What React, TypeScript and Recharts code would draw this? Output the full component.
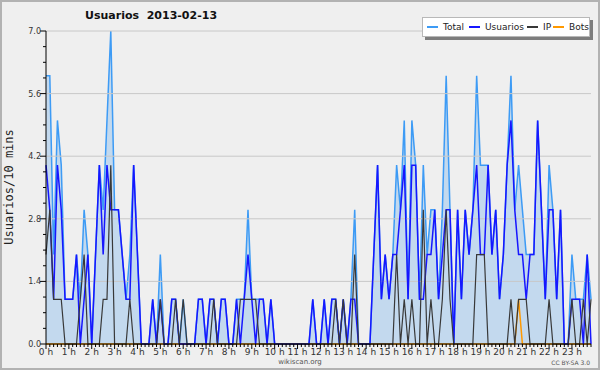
import { ComposedChart, Area, Line, XAxis, YAxis, ReferenceLine } from "recharts"

document.body.style.margin = "0"

// one slot every 10 minutes, 0:00 -> 23:50
const slots = Array.from({ length: 144 }, (_, k) => `${Math.floor(k / 6)}:${(k % 6) * 10}`)

const hourLabels = [
  "0 h", "1 h", "2 h", "3 h", "4 h", "5 h", "6 h", "7 h", "8 h", "9 h", "10 h", "11 h",
  "12 h", "13 h", "14 h", "15 h", "16 h", "17 h", "18 h", "19 h", "20 h", "21 h", "22 h", "23 h",
]

const total = [
  6, 6, 2, 5, 4, 1, 1, 1, 2, 1, 3, 2,
  0, 2, 4, 3, 5, 7, 3, 3, 2, 1, 2, 4,
  2, 0, 0, 0, 1, 0, 2, 0, 0, 1, 1, 0,
  1, 0, 0, 0, 1, 1, 0, 1, 1, 0, 1, 1,
  0, 0, 1, 1, 1, 3, 1, 1, 1, 1, 0, 1,
  0, 0, 0, 0, 0, 0, 0, 0, 0, 0, 1, 0,
  0, 1, 0, 1, 1, 0, 1, 0, 1, 3, 0, 0,
  0, 0, 2, 4, 1, 2, 1, 2, 4, 3, 5, 1,
  5, 4, 1, 4, 2, 3, 3, 1, 3, 6, 3, 0,
  3, 1, 3, 2, 3, 6, 4, 4, 4, 2, 3, 1,
  2, 4, 6, 3, 4, 3, 2, 2, 2, 5, 3, 1,
  4, 3, 1, 3, 0, 0, 2, 1, 1, 1, 2, 1,
]

const usuarios = [
  4, 3, 1, 4, 3, 1, 1, 1, 2, 0, 1, 2,
  0, 2, 4, 2, 4, 3, 3, 3, 2, 1, 1, 4,
  2, 0, 0, 0, 1, 0, 1, 0, 0, 1, 1, 0,
  0, 0, 0, 0, 1, 1, 0, 1, 1, 0, 1, 1,
  0, 0, 1, 0, 1, 2, 1, 0, 1, 1, 0, 1,
  0, 0, 0, 0, 0, 0, 0, 0, 0, 0, 1, 0,
  0, 1, 0, 1, 1, 0, 1, 0, 1, 1, 0, 0,
  0, 0, 2, 4, 1, 2, 1, 2, 2, 3, 4, 1,
  4, 4, 1, 1, 2, 2, 3, 1, 2, 3, 3, 0,
  3, 1, 3, 2, 3, 4, 2, 2, 4, 2, 3, 1,
  2, 4, 5, 3, 2, 2, 1, 2, 2, 5, 3, 1,
  3, 3, 1, 3, 0, 0, 1, 1, 1, 0, 2, 0,
]

const ip = [
  2, 3, 1, 1, 1, 0, 0, 0, 0, 1, 2, 0,
  0, 0, 0, 1, 1, 4, 0, 0, 0, 0, 1, 0,
  0, 0, 0, 0, 0, 0, 1, 0, 0, 0, 1, 0,
  1, 0, 0, 0, 0, 0, 0, 0, 1, 0, 0, 0,
  0, 0, 0, 1, 1, 1, 1, 1, 0, 0, 0, 0,
  0, 0, 0, 0, 0, 0, 0, 0, 0, 0, 0, 0,
  0, 0, 0, 0, 1, 0, 1, 0, 0, 2, 0, 0,
  0, 0, 0, 0, 0, 0, 0, 0, 2, 0, 1, 0,
  1, 0, 0, 3, 0, 1, 0, 0, 1, 3, 1, 0,
  0, 0, 0, 0, 0, 2, 2, 2, 0, 0, 0, 0,
  0, 0, 1, 0, 1, 1, 1, 0, 0, 0, 0, 0,
  1, 0, 0, 0, 0, 0, 1, 0, 0, 1, 0, 1,
]

const bots = [
  0, 0, 0, 0, 0, 0, 0, 0, 0, 0, 0, 0,
  0, 0, 0, 0, 0, 0, 0, 0, 0, 0, 0, 0,
  0, 0, 0, 0, 0, 0, 0, 0, 0, 0, 0, 0,
  0, 0, 0, 0, 0, 0, 0, 0, 0, 0, 0, 0,
  0, 0, 0, 0, 0, 0, 0, 0, 0, 0, 0, 0,
  0, 0, 0, 0, 0, 0, 0, 0, 0, 0, 0, 0,
  0, 0, 0, 0, 0, 0, 0, 0, 0, 0, 0, 0,
  0, 0, 0, 0, 0, 0, 0, 0, 0, 0, 0, 0,
  0, 0, 0, 0, 0, 0, 0, 0, 0, 0, 0, 0,
  0, 0, 0, 0, 0, 0, 0, 0, 0, 0, 0, 0,
  0, 0, 0, 0, 1, 0, 0, 0, 0, 0, 0, 0,
  0, 0, 0, 0, 0, 0, 0, 0, 0, 0, 0, 0,
]

const yMajor = [0, 1.4, 2.8, 4.2, 5.6, 7]
const yTicks = [
  0, 0.35, 0.7, 1.05, 1.4, 1.75, 2.1, 2.45, 2.8, 3.15, 3.5,
  3.85, 4.2, 4.55, 4.9, 5.25, 5.6, 5.95, 6.3, 6.65, 7,
]

const data = slots.map((slot, k) => ({
  slot,
  total: total[k],
  usuarios: usuarios[k],
  ip: ip[k],
  bots: bots[k],
}))

const COLORS = {
  total: "#3d9bf5",
  usuarios: "#1616ff",
  ip: "#383838",
  bots: "#ff9900",
}

const font = "'DejaVu Sans', sans-serif"

const XTick = (props: any) => {
  const { x, y, index } = props
  const major = index % 6 === 0
  return (
    <g>
      <line x1={x} y1={y} x2={x} y2={y + (major ? 5 : 3)} stroke="#000" />
      {major && (
        <text x={x} y={y + 11} textAnchor="middle" fontSize={9} fill="#333" fontFamily={font}>
          {hourLabels[index / 6]}
        </text>
      )}
    </g>
  )
}

const YTick = (props: any) => {
  const { x, y, payload } = props
  const major = yMajor.includes(payload.value)
  return (
    <g>
      <line x1={x - (major ? 6 : 3)} y1={y} x2={x} y2={y} stroke="#000" />
      {major && (
        <text x={x - 5} y={y + 3} textAnchor="end" fontSize={8} fill="#333" fontFamily={font}>
          {payload.value.toFixed(1)}
        </text>
      )}
    </g>
  )
}

const legendItems = [
  { name: "Total", color: COLORS.total, left: 4, textLeft: 20 },
  { name: "Usuarios", color: COLORS.usuarios, left: 46, textLeft: 62 },
  { name: "IP", color: COLORS.ip, left: 104, textLeft: 120 },
  { name: "Bots", color: COLORS.bots, left: 130, textLeft: 146 },
]

const App = () => {
  return (
    <div
      style={{
        position: "relative",
        width: 600,
        height: 370,
        background: "#efefef",
        boxShadow: "inset 0 0 0 2px #b2b2b2",
        fontFamily: font,
        overflow: "hidden",
      }}
    >
      <div
        style={{
          position: "absolute",
          left: 85,
          top: 9,
          fontSize: 11,
          fontWeight: "bold",
          lineHeight: "14px",
          color: "#111",
          whiteSpace: "pre",
        }}
      >
        Usuarios  2013-02-13
      </div>

      <div
        style={{
          position: "absolute",
          left: 9,
          top: 187,
          transform: "translate(-50%, -50%) rotate(-90deg)",
          fontFamily: "'DejaVu Sans Mono', monospace",
          fontSize: 12,
          color: "#222",
          whiteSpace: "nowrap",
        }}
      >
        Usuarios/10 mins
      </div>

      <div style={{ position: "absolute", left: 0, top: 0 }}>
        <ComposedChart width={600} height={370} data={data} margin={{ top: 31, right: 9, left: 0, bottom: 0 }}>
          {yMajor.slice(1).map((v) => (
            <ReferenceLine key={v} y={v} stroke="#c8c8c8" strokeWidth={1} />
          ))}
          <Area
            type="linear"
            dataKey="total"
            stroke={COLORS.total}
            strokeWidth={1.5}
            fill="#9fc6ec"
            fillOpacity={0.55}
            dot={false}
            isAnimationActive={false}
          />
          <Line type="linear" dataKey="bots" stroke={COLORS.bots} strokeWidth={1.5} dot={false} isAnimationActive={false} />
          <Line type="linear" dataKey="usuarios" stroke={COLORS.usuarios} strokeWidth={1.5} dot={false} isAnimationActive={false} />
          <Line type="linear" dataKey="ip" stroke={COLORS.ip} strokeWidth={1.2} dot={false} isAnimationActive={false} />
          <XAxis
            dataKey="slot"
            interval={0}
            height={26}
            tickSize={0}
            tickMargin={0}
            tickLine={false}
            axisLine={{ stroke: "#000" }}
            tick={<XTick />}
          />
          <YAxis
            type="number"
            domain={[0, 7]}
            ticks={yTicks}
            interval={0}
            width={46}
            tickSize={0}
            tickMargin={0}
            tickLine={false}
            axisLine={{ stroke: "#000" }}
            tick={<YTick />}
          />
        </ComposedChart>
      </div>

      <div
        style={{
          position: "absolute",
          left: 422,
          top: 17,
          width: 168,
          height: 20,
          background: "#fff",
          border: "1px solid #b8b8b8",
          boxSizing: "border-box",
          boxShadow: "3px 3px 0 #7d7d7d",
          fontSize: 9,
          color: "#222",
        }}
      >
        {legendItems.map((it) => (
          <div key={it.name}>
            <div
              style={{
                position: "absolute",
                left: it.left,
                top: 8,
                width: 11,
                height: 1.5,
                background: it.color,
              }}
            />
            <div style={{ position: "absolute", left: it.textLeft, top: 2, lineHeight: "14px" }}>{it.name}</div>
          </div>
        ))}
      </div>

      <div
        style={{
          position: "absolute",
          left: 0,
          width: 600,
          top: 358,
          textAlign: "center",
          fontSize: 7,
          color: "#555",
          lineHeight: "9px",
        }}
      >
        wikiscan.org
      </div>
      <div
        style={{
          position: "absolute",
          right: 10,
          top: 358,
          fontSize: 6,
          color: "#555",
          lineHeight: "9px",
        }}
      >
        CC BY-SA 3.0
      </div>
    </div>
  )
}

export default App
